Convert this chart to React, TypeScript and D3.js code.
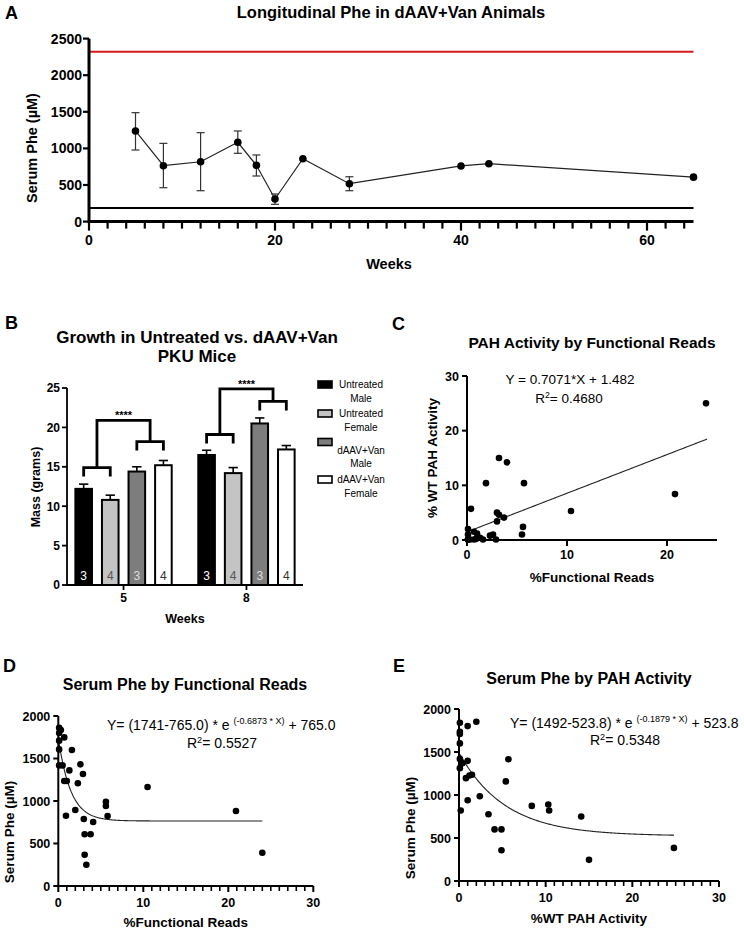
import React from 'react';
import * as d3 from 'd3';

const HELV = "'Liberation Sans', Arial, Helvetica, sans-serif";

// ---- Panel A: longitudinal Phe ----
const aWeeks = [5, 8, 12, 16, 18, 20, 23, 28, 40, 43, 65];
const aPhe = [1238, 764, 818, 1083, 769, 309, 859, 518, 760, 791, 607];
const aPheHi: (number | null)[] = [1488, 1069, 1215, 1238, 910, 377, null, 613, null, null, null];
const aPheLo: (number | null)[] = [978, 463, 422, 933, 623, 236, null, 422, null, null, null];
const aTicksY = [0, 500, 1000, 1500, 2000, 2500];
const aTicksX = [0, 20, 40, 60];
const untreatedPhe = 2320;
const normalPhe = 185;

// ---- Panel B: growth ----
const bWeeks = ['5', '8'];
const bGroups = ['Untreated Male', 'Untreated Female', 'dAAV+Van Male', 'dAAV+Van Female'];
const bLegend = [['Untreated', 'Male'], ['Untreated', 'Female'], ['dAAV+Van', 'Male'], ['dAAV+Van', 'Female']];
const mass5 = [12.2, 10.8, 14.4, 15.2];
const mass8 = [16.5, 14.2, 20.5, 17.2];
const sem5 = [0.6, 0.6, 0.6, 0.6];
const sem8 = [0.6, 0.7, 0.7, 0.5];
const nMice = [3, 4, 3, 4];
const bracketLow = [14.9, 19.1];
const bracketHigh = [18.2, 23.3];
const bracketTop = [20.9, 24.9];
const bTicksY = [0, 5, 10, 15, 20, 25];
const barFill = ['#000000', '#c4c4c4', '#7d7d7d', '#ffffff'];
const barText = ['#ffffff', '#555555', '#dddddd', '#333333'];

// ---- Panel C: PAH activity vs functional reads ----
const cReads = [0.1, 0.3, 0.1, 0.7, 0.1, 0.1, 1.6, 0.1, 0.4, 2.6, 1.3, 2.9, 0.7, 1.0, 2.3, 10.4, 5.6, 5.5, 1.9, 20.8, 0.9, 5.7, 3.0, 4.0, 3.7, 3.0, 3.2, 3.2, 23.9];
const cActivity = [2.0, 0.1, 1.0, 0.1, 0.1, 0.1, 0.1, 0.1, 5.7, 1.0, 0.4, 0.1, 1.5, 1.2, 0.8, 5.3, 2.4, 1.0, 10.4, 8.4, 0.2, 10.4, 3.4, 14.2, 4.1, 5.0, 4.6, 15.0, 25.0];
const cSlope = 0.7071;
const cIntercept = 1.482;

// ---- Panel D: serum Phe vs functional reads ----
const dReads = [0.1, 0.3, 0.1, 0.7, 0.1, 0.1, 0.1, 0.5, 0.7, 1.0, 0.9, 1.3, 1.6, 2.0, 2.3, 2.6, 2.9, 3.0, 3.1, 3.8, 4.1, 3.1, 3.3, 5.6, 5.6, 5.8, 10.5, 20.9, 24.0];
const dPhe = [1860, 1835, 1800, 1748, 1710, 1607, 1419, 1419, 1235, 1235, 827, 1360, 1600, 894, 1208, 1431, 1317, 788, 608, 608, 753, 368, 250, 991, 941, 823, 1164, 882, 392];
const dTop = 1741, dPlateau = 765.0, dK = 0.6873;

// ---- Panel E: serum Phe vs PAH activity ----
const eActivity = [0.1, 0.1, 0.1, 0.1, 0.1, 0.1, 0.4, 1.0, 2.0, 1.0, 0.8, 1.2, 1.5, 1.0, 0.2, 2.4, 5.7, 5.4, 3.4, 4.1, 4.9, 4.9, 8.4, 10.3, 10.4, 14.1, 15.0, 24.8];
const ePhe = [1840, 1736, 1709, 1600, 1420, 1312, 1370, 1801, 1851, 1397, 1196, 1227, 1235, 939, 820, 985, 1416, 1158, 777, 600, 600, 358, 873, 889, 820, 750, 246, 385];
const eTop = 1492, ePlateau = 523.8, eK = 0.1879;

function PanelA() {
  const x = d3.scaleLinear().domain([0, 65]).range([89, 693.5]);
  const y = d3.scaleLinear().domain([0, 2500]).range([221.6, 38.6]);
  const path = d3.line<number>().x((_, i) => x(aWeeks[i])).y(d => y(d))(aPhe) ?? '';
  const minor = d3.range(0, 65, 2);
  return (
    <g>
      <text x={5} y={19} fontSize={18} fontWeight="bold">A</text>
      <text x={391} y={18} textAnchor="middle" fontSize={16.5} fontWeight="bold">Longitudinal Phe in dAAV+Van Animals</text>
      <line x1={x(0)} x2={x(65)} y1={y(untreatedPhe)} y2={y(untreatedPhe)} stroke="#d7191c" strokeWidth={2} />
      <line x1={x(0)} x2={x(65)} y1={y(normalPhe)} y2={y(normalPhe)} stroke="#000" strokeWidth={2} />
      {aWeeks.map((w, i) => aPheHi[i] == null ? null : (
        <g key={'e' + i} stroke="#333" strokeWidth={1.2}>
          <line x1={x(w)} x2={x(w)} y1={y(aPheHi[i] as number)} y2={y(aPheLo[i] as number)} />
          <line x1={x(w) - 4} x2={x(w) + 4} y1={y(aPheHi[i] as number)} y2={y(aPheHi[i] as number)} />
          <line x1={x(w) - 4} x2={x(w) + 4} y1={y(aPheLo[i] as number)} y2={y(aPheLo[i] as number)} />
        </g>
      ))}
      <path d={path} fill="none" stroke="#222" strokeWidth={1.2} />
      {aWeeks.map((w, i) => <circle key={'p' + i} cx={x(w)} cy={y(aPhe[i])} r={3.8} fill="#000" />)}
      {/* axes */}
      <line x1={x(0)} x2={x(65)} y1={y(0)} y2={y(0)} stroke="#000" strokeWidth={3} />
      <line x1={x(0)} x2={x(0)} y1={y(0) + 1.5} y2={y(2500)} stroke="#000" strokeWidth={3} />
      {minor.map(t => (
        <line key={'m' + t} x1={x(t)} x2={x(t)} y1={y(0)} y2={y(0) + (t % 20 === 0 ? 9 : 7)} stroke="#000" strokeWidth={2.2} />
      ))}
      {aTicksX.map(t => (
        <text key={'tx' + t} x={x(t)} y={245} textAnchor="middle" fontSize={14} fontWeight="bold">{t}</text>
      ))}
      {aTicksY.map(t => (
        <g key={'ty' + t}>
          <line x1={x(0) - 6} x2={x(0)} y1={y(t)} y2={y(t)} stroke="#000" strokeWidth={2.2} />
          <text x={x(0) - 7} y={y(t) + 5} textAnchor="end" fontSize={14} fontWeight="bold">{t}</text>
        </g>
      ))}
      <text x={389} y={269} textAnchor="middle" fontSize={14.5} fontWeight="bold">Weeks</text>
      <text transform={`translate(37,${148}) rotate(-90)`} textAnchor="middle" fontSize={14.5} fontWeight="bold">Serum Phe (µM)</text>
    </g>
  );
}

function PanelB() {
  const y = d3.scaleLinear().domain([0, 25]).range([585, 388]);
  const x0 = d3.scaleBand().domain(bWeeks).range([67, 303]).paddingInner(0.2).paddingOuter(0.06);
  const x1 = d3.scaleBand().domain(bGroups).range([0, x0.bandwidth()]).paddingInner(0.3);
  const bw = x1.bandwidth();
  const series = [mass5, mass8];
  const sems = [sem5, sem8];
  const legY = [384.5, 413.5, 442, 479.5];
  const legText = [[388, 402], [417, 431], [454, 467], [483, 497]];
  return (
    <g>
      <text x={5} y={329} fontSize={18} fontWeight="bold">B</text>
      <text x={197} y={343} textAnchor="middle" fontSize={17} fontWeight="bold">Growth in Untreated vs. dAAV+Van</text>
      <text x={197} y={362} textAnchor="middle" fontSize={17} fontWeight="bold">PKU Mice</text>
      {bWeeks.map((wk, gi) => {
        const gx = x0(wk) as number;
        const cx = bGroups.map(g => gx + (x1(g) as number) + bw / 2);
        const m01 = (cx[0] + cx[1]) / 2;
        const m23 = (cx[2] + cx[3]) / 2;
        const lo = y(bracketLow[gi]);
        const hi = y(bracketHigh[gi]);
        const top = y(bracketTop[gi]);
        return (
          <g key={wk}>
            {bGroups.map((g, i) => {
              const v = series[gi][i];
              const e = v + sems[gi][i];
              return (
                <g key={g}>
                  <line x1={cx[i]} x2={cx[i]} y1={y(v)} y2={y(e)} stroke="#000" strokeWidth={1.6} />
                  <line x1={cx[i] - bw / 4} x2={cx[i] + bw / 4} y1={y(e)} y2={y(e)} stroke="#000" strokeWidth={1.6} />
                  <rect x={gx + (x1(g) as number) + 1} y={y(v)} width={bw - 2} height={y(0) - y(v)} fill={barFill[i]} stroke="#000" strokeWidth={2} />
                  <text x={cx[i]} y={580} textAnchor="middle" fontSize={12} fill={barText[i]}>{nMice[i]}</text>
                </g>
              );
            })}
            <g fill="none" stroke="#000" strokeWidth={2.8}>
              <path d={`M${cx[0]},${lo + 9}V${lo}H${cx[1]}V${lo + 9}`} />
              <path d={`M${cx[2]},${hi + 9}V${hi}H${cx[3]}V${hi + 9}`} />
              <path d={`M${m01},${lo}V${top}H${m23}V${hi}`} />
            </g>
            <text x={(m01 + m23) / 2} y={top - 1} textAnchor="middle" fontSize={11} fontWeight="bold">****</text>
            <line x1={gx + x0.bandwidth() / 2} x2={gx + x0.bandwidth() / 2} y1={y(0)} y2={y(0) + 5} stroke="#000" strokeWidth={1.8} />
            <text x={gx + x0.bandwidth() / 2} y={602} textAnchor="middle" fontSize={12} fontWeight="bold">{wk}</text>
          </g>
        );
      })}
      <line x1={67} x2={303} y1={y(0)} y2={y(0)} stroke="#000" strokeWidth={1.8} />
      <line x1={67} x2={67} y1={y(0) + 0.9} y2={y(25)} stroke="#000" strokeWidth={1.8} />
      {bTicksY.map(t => (
        <g key={t}>
          <line x1={62} x2={67} y1={y(t)} y2={y(t)} stroke="#000" strokeWidth={1.8} />
          <text x={60} y={y(t) + 4.3} textAnchor="end" fontSize={12} fontWeight="bold">{t}</text>
        </g>
      ))}
      <text x={185} y={623} textAnchor="middle" fontSize={12.5} fontWeight="bold">Weeks</text>
      <text transform={`translate(40,487) rotate(-90)`} textAnchor="middle" fontSize={12.5} fontWeight="bold">Mass (grams)</text>
      {bGroups.map((g, i) => (
        <g key={'l' + g}>
          <rect x={318} y={legY[i] - 3.5} width={14} height={7} fill={barFill[i]} stroke="#000" strokeWidth={1.6} />
          <text x={361} y={legText[i][0]} textAnchor="middle" fontSize={10}>{bLegend[i][0]}</text>
          <text x={361} y={legText[i][1]} textAnchor="middle" fontSize={10}>{bLegend[i][1]}</text>
        </g>
      ))}
    </g>
  );
}

type ScatterProps = {
  xs: number[]; ys: number[];
  xDomain: [number, number]; yDomain: [number, number];
  xRange: [number, number]; yRange: [number, number];
  xTicks: number[]; yTicks: number[]; xMinor: number[];
  fit: (v: number) => number; fitFrom: number; fitTo: number;
  letter: string; letterX: number; letterY: number;
  title: string; titleX: number; titleY: number; titleSize: number;
  xLabel: string; xLabelY: number; xTickY: number;
  yLabel: string; yLabelX: number; yLabelC: number;
  children?: React.ReactNode;
};

function Scatter(p: ScatterProps) {
  const x = d3.scaleLinear().domain(p.xDomain).range(p.xRange);
  const y = d3.scaleLinear().domain(p.yDomain).range(p.yRange);
  const fx = d3.range(p.fitFrom, p.fitTo + 0.001, 0.1);
  const fitPath = d3.line<number>().x(d => x(d)).y(d => y(p.fit(d)))(fx) ?? '';
  const x0 = p.xRange[0];
  const y0 = p.yRange[0];
  return (
    <g>
      <text x={p.letterX} y={p.letterY} fontSize={18} fontWeight="bold">{p.letter}</text>
      <text x={p.titleX} y={p.titleY} textAnchor="middle" fontSize={p.titleSize} fontWeight="bold">{p.title}</text>
      <path d={fitPath} fill="none" stroke="#222" strokeWidth={1.1} />
      {p.xs.map((v, i) => <circle key={i} cx={x(v)} cy={y(p.ys[i])} r={3.3} fill="#000" />)}
      <line x1={x0} x2={p.xRange[1]} y1={y0} y2={y0} stroke="#000" strokeWidth={2} />
      <line x1={x0} x2={x0} y1={y0 + 1} y2={p.yRange[1]} stroke="#000" strokeWidth={2} />
      {p.xMinor.map(t => (
        <line key={'m' + t} x1={x(t)} x2={x(t)} y1={y0} y2={y0 + 5} stroke="#000" strokeWidth={1.6} />
      ))}
      {p.xTicks.map(t => (
        <g key={'x' + t}>
          <line x1={x(t)} x2={x(t)} y1={y0} y2={y0 + 6} stroke="#000" strokeWidth={2} />
          <text x={x(t)} y={p.xTickY} textAnchor="middle" fontSize={12.5} fontWeight="bold">{t}</text>
        </g>
      ))}
      {p.yTicks.map(t => (
        <g key={'y' + t}>
          <line x1={x0 - 5} x2={x0} y1={y(t)} y2={y(t)} stroke="#000" strokeWidth={2} />
          <text x={x0 - 8} y={y(t) + 4.5} textAnchor="end" fontSize={12.5} fontWeight="bold">{t}</text>
        </g>
      ))}
      <text x={(p.xRange[0] + p.xRange[1]) / 2} y={p.xLabelY} textAnchor="middle" fontSize={13.5} fontWeight="bold">{p.xLabel}</text>
      <text transform={`translate(${p.yLabelX},${p.yLabelC}) rotate(-90)`} textAnchor="middle" fontSize={13.5} fontWeight="bold">{p.yLabel}</text>
      {p.children}
    </g>
  );
}

function R2({ x, y, value, size }: { x: number; y: number; value: string; size: number }) {
  return (
    <text x={x} y={y} textAnchor="middle" fontSize={size}>
      R<tspan dy={-5} fontSize={size * 0.65}>2</tspan><tspan dy={5}>= {value}</tspan>
    </text>
  );
}

export default function App() {
  return (
    <svg width={744} height={930} viewBox="0 0 744 930" fontFamily={HELV}
      style={{ position: 'absolute', left: 0, top: 0, background: '#fff' }}>
      <rect width={744} height={930} fill="#fff" />
      <PanelA />
      <PanelB />
      <Scatter xs={cReads} ys={cActivity} xDomain={[0, 25]} yDomain={[0, 30]}
        xRange={[467, 717]} yRange={[540, 376]} xTicks={[0, 10, 20]} yTicks={[0, 10, 20, 30]} xMinor={[]}
        fit={v => cSlope * v + cIntercept} fitFrom={0} fitTo={24}
        letter="C" letterX={392} letterY={330} title="PAH Activity by Functional Reads" titleX={592} titleY={348} titleSize={15.5}
        xLabel="%Functional Reads" xLabelY={582} xTickY={559} yLabel="% WT PAH Activity" yLabelX={437} yLabelC={458}>
        <text x={570} y={384} textAnchor="middle" fontSize={13.5}>Y = 0.7071*X + 1.482</text>
        <R2 x={569} y={403} value="0.4680" size={13.5} />
      </Scatter>
      <Scatter xs={dReads} ys={dPhe} xDomain={[0, 30]} yDomain={[0, 2000]}
        xRange={[58.3, 313.3]} yRange={[886, 716]} xTicks={[0, 10, 20, 30]} yTicks={[0, 500, 1000, 1500, 2000]}
        xMinor={d3.range(1, 30).filter(t => t % 10 !== 0)}
        fit={v => (dTop - dPlateau) * Math.exp(-dK * v) + dPlateau} fitFrom={0} fitTo={24}
        letter="D" letterX={3} letterY={672} title="Serum Phe by Functional Reads" titleX={185} titleY={690} titleSize={16}
        xLabel="%Functional Reads" xLabelY={927} xTickY={907} yLabel="Serum Phe (µM)" yLabelX={14} yLabelC={832}>
        <text x={107} y={730} fontSize={14}>
          Y= (1741-765.0) * e <tspan dy={-6} fontSize={9}>(-0.6873 * X)</tspan><tspan dy={6}> + 765.0</tspan>
        </text>
        <R2 x={222} y={748} value="0.5527" size={14} />
      </Scatter>
      <Scatter xs={eActivity} ys={ePhe} xDomain={[0, 30]} yDomain={[0, 2000]}
        xRange={[459, 719]} yRange={[881, 709]} xTicks={[0, 10, 20, 30]} yTicks={[0, 500, 1000, 1500, 2000]}
        xMinor={d3.range(1, 30).filter(t => t % 10 !== 0)}
        fit={v => (eTop - ePlateau) * Math.exp(-eK * v) + ePlateau} fitFrom={0.1} fitTo={24.8}
        letter="E" letterX={393} letterY={672} title="Serum Phe by PAH Activity" titleX={589} titleY={684} titleSize={16}
        xLabel="%WT PAH Activity" xLabelY={923} xTickY={902} yLabel="Serum Phe (µM)" yLabelX={415} yLabelC={828}>
        <text x={510} y={728} fontSize={14}>
          Y= (1492-523.8) * e <tspan dy={-6} fontSize={9}>(-0.1879 * X)</tspan><tspan dy={6}> + 523.8</tspan>
        </text>
        <R2 x={625} y={745} value="0.5348" size={14} />
      </Scatter>
    </svg>
  );
}
